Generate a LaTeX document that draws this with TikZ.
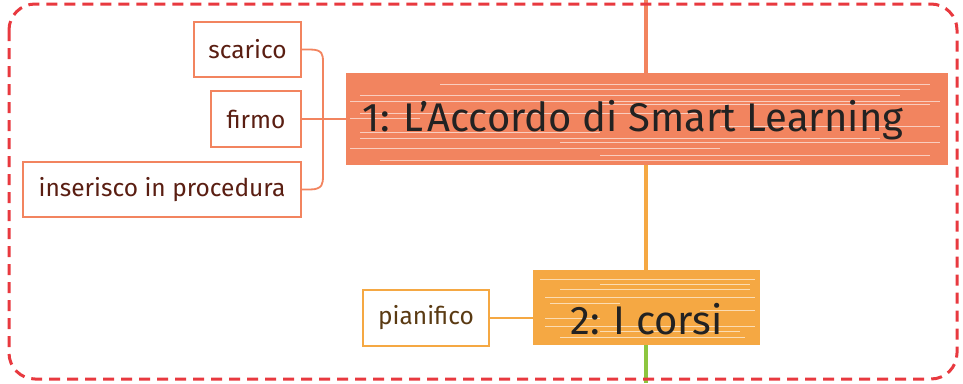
\documentclass[tikz,border=0pt]{standalone}
\usepackage{fontspec}
\setmainfont{Fira Sans}
\definecolor{coral}{HTML}{F2845F}
\definecolor{amber}{HTML}{F5A843}
\definecolor{leaf}{HTML}{8DC63F}
\definecolor{dashred}{HTML}{E8393F}
\definecolor{txtbrown}{HTML}{5A1E12}
\definecolor{txtbrown2}{HTML}{5A3A12}
\definecolor{txtdark}{HTML}{222222}
\begin{document}
\begin{tikzpicture}[x=1pt,y=-1pt,
  topic/.style={draw=none,inner sep=0pt,text=txtdark,font=\fontsize{40}{42}\selectfont},
  leafbox/.style={draw=coral,line width=1.8pt,fill=white,inner sep=0pt,text=txtbrown,font=\fontsize{24.5}{26}\selectfont},
  link/.style={line width=1.8pt,line cap=round,line join=round},
  stripe/.style={white,line width=0.9pt,opacity=0.6}]
\useasboundingbox (0,0) rectangle (963,383);
% trunk
\draw[coral,line width=3.5pt] (646,0) -- (646,80);
\draw[amber,line width=3.5pt] (646,160) -- (646,275);
\draw[leaf,line width=3.5pt] (646,340) -- (646,383);
% dashed frame
\draw[dashred,line width=3pt,dash pattern=on 11pt off 7pt,rounded corners=26pt] (9,4) rectangle (957,379);
% main topic 1
\fill[coral] (346,73) rectangle (948,165);
\foreach \y/\a/\b in {84/440/930, 89/490/920, 95/360/900, 101/350/940, 104/600/930, 113/360/700, 118/350/420, 126/720/940, 132/360/600, 138/360/880, 142/560/940, 148/350/720, 155/600/930, 160/380/800}
  \draw[stripe] (\a,\y) -- (\b,\y);
\node[topic,minimum width=602pt,minimum height=92pt] (t1) at (647,119) {};
\node[topic,anchor=center] (t1t) at (633,120) {1: L’Accordo di Smart Learning};
% main topic 2
\fill[amber] (533,270) rectangle (760,345);
\foreach \y/\a/\b in {279/540/755, 284/600/750, 289/560/750, 297/545/755, 303/550/620, 310/700/755, 318/545/600, 326/545/755, 331/600/740, 337/560/745}
  \draw[stripe] (\a,\y) -- (\b,\y);
\node[topic,minimum width=227pt,minimum height=75pt] (t2) at (646.5,318) {};
\node[topic] (t2t) at (646.5,319) {2: I corsi};
% subtopics
\node[leafbox,minimum width=107pt,minimum height=55pt] (s1) at (247.5,49.5) {scarico};
\node[leafbox,minimum width=90pt,minimum height=56pt] (s2) at (256,119) {firmo};
\node[leafbox,minimum width=278pt,minimum height=55pt] (s3) at (162,189.5) {inserisco in procedura};
\node[leafbox,draw=amber,text=txtbrown2,minimum width=126pt,minimum height=56pt] (p1) at (426,318) {pianifico};
% connectors
\draw[link,coral] (s1.east) -- (310,49.5) .. controls (323,49.5) and (323,55) .. (323,62) -- (323,176) .. controls (323,183) and (323,189.5) .. (310,189.5) -- (s3.east);
\draw[link,coral] (s2.east) -- (t1.west);
\draw[link,amber] (p1.east) -- (t2.west);
\end{tikzpicture}
\end{document}
